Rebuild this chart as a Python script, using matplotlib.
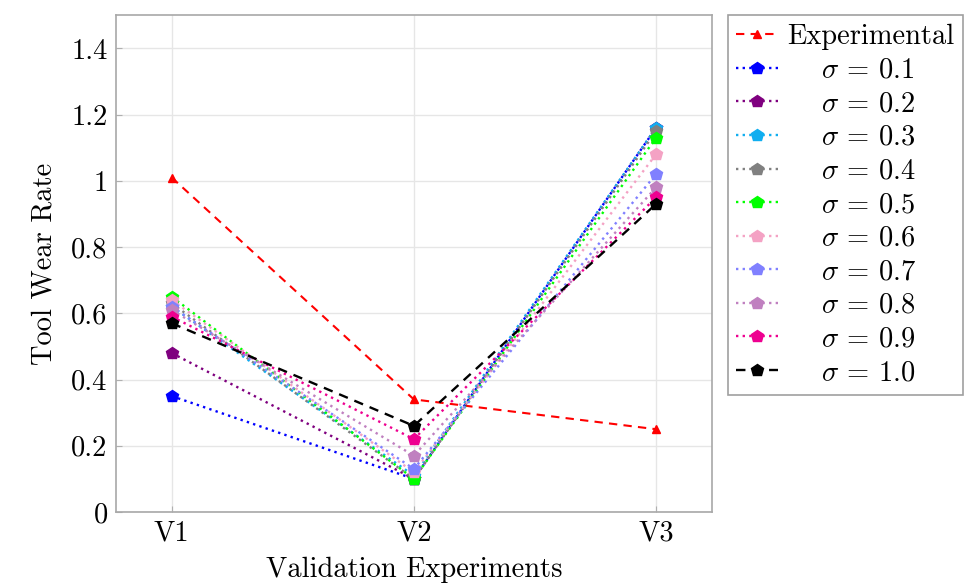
import matplotlib
matplotlib.use("Agg")
import matplotlib.pyplot as plt
from matplotlib.ticker import FuncFormatter

plt.rcParams["font.family"] = "cmr10"
plt.rcParams["mathtext.fontset"] = "cm"
plt.rcParams["axes.formatter.use_mathtext"] = True

experiments = ["V1", "V2", "V3"]
experimental = [1.01, 0.34, 0.25]

sigmas = ["0.1", "0.2", "0.3", "0.4", "0.5", "0.6", "0.7", "0.8", "0.9", "1.0"]
sim_values = [
    [0.35, 0.10, 1.16],
    [0.48, 0.10, 1.16],
    [0.62, 0.11, 1.16],
    [0.63, 0.10, 1.15],
    [0.65, 0.10, 1.13],
    [0.64, 0.12, 1.08],
    [0.62, 0.13, 1.02],
    [0.61, 0.17, 0.98],
    [0.59, 0.22, 0.95],
    [0.57, 0.26, 0.93],
]
colors = ["#0000ff", "#7f007f", "#10aef0", "#808080", "#00ff00",
          "#f4a2c4", "#8080ff", "#c080c0", "#ee0090", "#000000"]

FS = 20.5

fig = plt.figure(figsize=(9.67, 5.83), dpi=100)
ax = fig.add_axes([0.12, 0.1218, 0.616, 0.852])

x = [1, 2, 3]
ax.plot(x, experimental, color="red", linestyle=(0, (4, 3)), linewidth=1.5,
        marker="^", markersize=6, label="Experimental", zorder=3)
for s, vals, c in zip(sigmas, sim_values, colors):
    ls = (0, (4, 3)) if s == "1.0" else (0, (1, 1.8))
    ax.plot(x, vals, color=c, linestyle=ls, linewidth=1.7, marker="p",
            markersize=9, label=r"$\quad\,\,\sigma\,=\,%s$" % s, zorder=3)

ax.set_xlim(0.77, 3.23)
ax.set_ylim(0, 1.5)
ax.set_xticks(x)
ax.set_xticklabels(experiments)
ax.set_yticks([0, 0.2, 0.4, 0.6, 0.8, 1.0, 1.2, 1.4])
ax.yaxis.set_major_formatter(FuncFormatter(lambda v, p: "%g" % round(v, 2)))
ax.grid(True, color="#e6e6e6", linewidth=1.0, zorder=0)
ax.set_axisbelow(True)
ax.tick_params(direction="in", length=4, color="#b0b0b0", labelsize=FS, pad=6)
for sp in ax.spines.values():
    sp.set_color("#a8a8a8")
    sp.set_linewidth(1.2)
ax.set_xlabel("Validation Experiments", fontsize=FS, labelpad=7)
ax.set_ylabel("Tool Wear Rate", fontsize=FS, labelpad=10)

leg = ax.legend(loc="upper left", bbox_to_anchor=(1.027, 1.0), fontsize=FS,
                frameon=True, fancybox=False, edgecolor="#888888",
                handlelength=1.45, handletextpad=0.35, labelspacing=0.255,
                borderpad=0.3, borderaxespad=0.0)
leg.get_frame().set_linewidth(1.2)

fig.savefig("out.png", dpi=100)
